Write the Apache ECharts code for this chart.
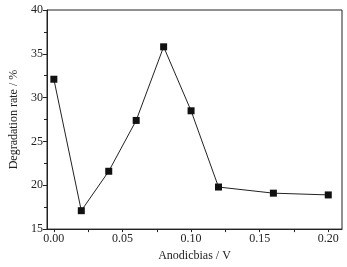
<!DOCTYPE html>
<html>
<head>
<meta charset="utf-8">
<script src="https://cdn.jsdelivr.net/npm/echarts@6/dist/echarts.min.js"></script>
<style>
html, body { margin: 0; padding: 0; background: #fff; }
#main { width: 347px; height: 267px; }
</style>
</head>
<body>
<div id="main"></div>
<script>
const bias = [0, 0.02, 0.04, 0.06, 0.08, 0.10, 0.12, 0.16, 0.20];
const rate = [32.1, 17.1, 21.6, 27.4, 35.8, 28.5, 19.8, 19.1, 18.9];
const xLabels = [0, 0.05, 0.10, 0.15, 0.20];
const xTickMarks = [0, 0.025, 0.05, 0.075, 0.10, 0.125, 0.15, 0.175, 0.20];

const font = 'Liberation Serif';
const chart = echarts.init(document.getElementById('main'));

const points = bias.map((b, i) => [b, rate[i]]);

chart.setOption({
  animation: false,
  grid: {
    left: 42, right: 5, top: 10, bottom: 35,
    show: true, borderColor: '#222', borderWidth: 1
  },
  xAxis: {
    type: 'value',
    min: -0.005, max: 0.21,
    name: 'Anodicbias / V',
    nameLocation: 'middle',
    nameGap: 20,
    nameTextStyle: { fontFamily: font, fontSize: 12, color: '#222' },
    axisLine: { show: true, onZero: false, lineStyle: { color: '#222' } },
    axisTick: {
      show: true, length: 3, lineStyle: { color: '#222' },
      customValues: xTickMarks
    },
    axisLabel: {
      fontFamily: font, fontSize: 12, color: '#222', margin: 4,
      customValues: xLabels,
      formatter: v => v.toFixed(2)
    },
    splitLine: { show: false }
  },
  yAxis: {
    type: 'value',
    min: 15, max: 40, interval: 5,
    name: 'Degradation rate / %',
    nameLocation: 'middle',
    nameGap: 27,
    nameTextStyle: { fontFamily: font, fontSize: 12, color: '#222' },
    axisLine: { show: true, onZero: false, lineStyle: { color: '#222' } },
    axisTick: { show: true, length: 4, lineStyle: { color: '#222' } },
    minorTick: { show: true, splitNumber: 2, length: 3, lineStyle: { color: '#222' } },
    axisLabel: { fontFamily: font, fontSize: 12, color: '#222', margin: 4 },
    splitLine: { show: false }
  },
  series: [
    {
      type: 'line',
      data: points,
      symbol: 'rect',
      symbolSize: 7,
      itemStyle: { color: '#111' },
      lineStyle: { color: '#222', width: 1 }
    }
  ]
});
</script>
</body>
</html>
